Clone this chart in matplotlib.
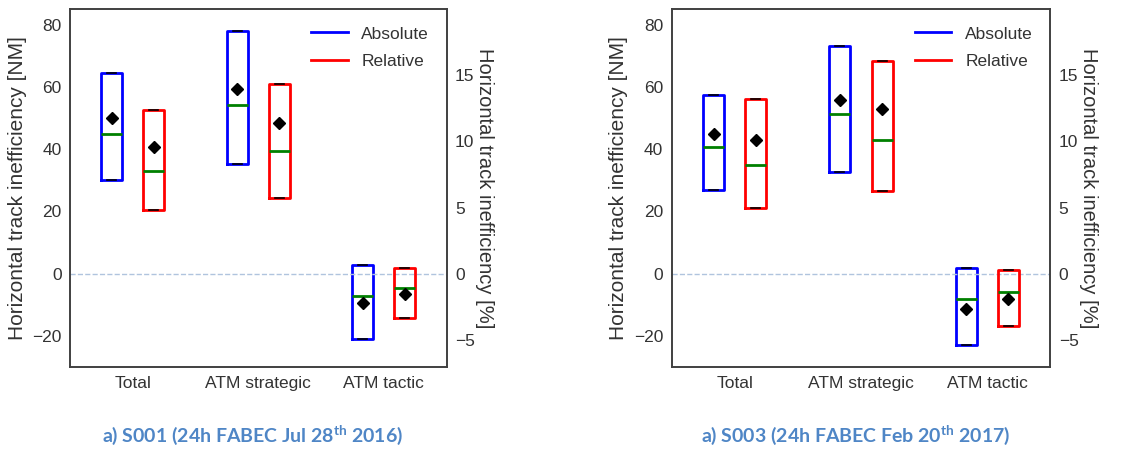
import matplotlib.pyplot as plt

plt.rcParams['font.family'] = ['Liberation Sans', 'DejaVu Sans']
plt.rcParams['mathtext.fontset'] = 'custom'
plt.rcParams['mathtext.bf'] = 'Lato:bold'
plt.rcParams['mathtext.rm'] = 'Lato:bold'

categories = ['Total', 'ATM strategic', 'ATM tactic']

# absolute inefficiency [NM]: q1, median, q3, mean
s001_abs_q1 = [30.2, 35.3, -21.0]
s001_abs_med = [44.8, 54.1, -7.0]
s001_abs_q3 = [64.5, 77.8, 2.9]
s001_abs_mean = [49.9, 59.2, -9.4]
# relative inefficiency [%]
s001_rel_q1 = [4.85, 5.76, -3.31]
s001_rel_med = [7.78, 9.24, -1.04]
s001_rel_q3 = [12.37, 14.34, 0.40]
s001_rel_mean = [9.6, 11.41, -1.54]

s003_abs_q1 = [26.9, 32.8, -22.9]
s003_abs_med = [40.6, 51.3, -8.2]
s003_abs_q3 = [57.4, 73.2, 1.7]
s003_abs_mean = [45.0, 55.9, -11.3]
s003_rel_q1 = [5.0, 6.26, -3.96]
s003_rel_med = [8.23, 10.13, -1.39]
s003_rel_q3 = [13.2, 16.09, 0.28]
s003_rel_mean = [10.13, 12.45, -1.92]

captions = ['a) S001 (24h FABEC Jul 28$^{\\mathbf{th}}$ 2016)',
            'a) S003 (24h FABEC Feb 20$^{\\mathbf{th}}$ 2017)']

TXT = '.2'
ylim_nm = (-30, 85)
scale = 4.25


def stats(q1, med, q3, mean):
    return [dict(q1=a, med=b, q3=c, mean=d, whislo=a, whishi=c, fliers=[])
            for a, b, c, d in zip(q1, med, q3, mean)]


def draw(ax, st, pos, color):
    ax.bxp(st, positions=pos, widths=1/6, capwidths=1/14,
           showmeans=True, showfliers=False,
           boxprops=dict(color=color, lw=2),
           whiskerprops=dict(color=color, lw=0),
           capprops=dict(color='black', lw=1.2),
           medianprops=dict(color='green', lw=2),
           meanprops=dict(marker='D', markerfacecolor='black',
                          markeredgecolor='black', markersize=6.5),
           manage_ticks=False)


def panel(rect, abs_st, rel_st, caption):
    ax = fig.add_axes(rect)
    ax2 = ax.twinx()
    x = [1, 2, 3]
    draw(ax, abs_st, [i - 1/6 for i in x], 'blue')
    draw(ax2, rel_st, [i + 1/6 for i in x], 'red')
    ax.axhline(0, color='#b0c4de', ls='--', lw=1)
    ax.set_xlim(0.5, 3.5)
    ax.set_ylim(*ylim_nm)
    ax2.set_ylim(ylim_nm[0] / scale, ylim_nm[1] / scale)
    ax.set_xticks(x)
    ax.set_xticklabels(categories)
    ax.set_yticks([-20, 0, 20, 40, 60, 80])
    ax2.set_yticks([-5, 0, 5, 10, 15])
    ax.set_ylabel('Horizontal track inefficiency [NM]', fontsize=15,
                  color=TXT, labelpad=4)
    ax2.set_ylabel('Horizontal track inefficiency [%]', fontsize=14.5,
                   color=TXT, rotation=270, labelpad=14)
    for a in (ax, ax2):
        a.tick_params(length=0, labelsize=12.5, labelcolor=TXT, pad=6)
        for s in a.spines.values():
            s.set_color('.25')
            s.set_linewidth(1.2)
    ax.plot([], [], color='blue', lw=2, label='Absolute')
    ax.plot([], [], color='red', lw=2, label='Relative')
    leg = ax.legend(loc='upper right', frameon=False, fontsize=12.5,
                    handlelength=2.1, labelspacing=0.7, borderaxespad=0.6)
    for t in leg.get_texts():
        t.set_color(TXT)
    cx = rect[0] + rect[2] / 2 - 0.005
    fig.text(cx, 0.033, caption, ha='center', va='center', fontsize=14,
             color='#4f86c6', family='Lato', weight='bold')


fig = plt.figure(figsize=(11.48, 4.5), dpi=100)
panel([0.061, 0.184, 0.328, 0.796],
      stats(s001_abs_q1, s001_abs_med, s001_abs_q3, s001_abs_mean),
      stats(s001_rel_q1, s001_rel_med, s001_rel_q3, s001_rel_mean),
      captions[0])
panel([0.585, 0.184, 0.330, 0.796],
      stats(s003_abs_q1, s003_abs_med, s003_abs_q3, s003_abs_mean),
      stats(s003_rel_q1, s003_rel_med, s003_rel_q3, s003_rel_mean),
      captions[1])

plt.savefig('out.png', dpi=100)
